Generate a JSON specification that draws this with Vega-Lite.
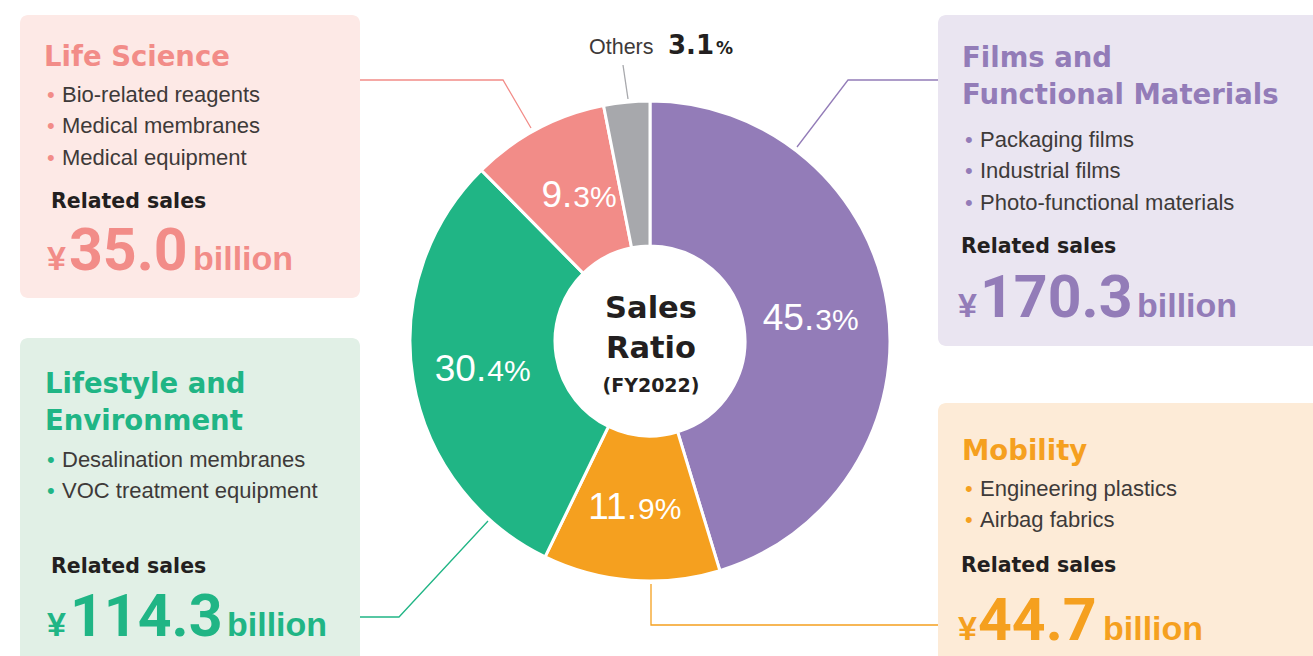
{
  "$schema": "https://vega.github.io/schema/vega-lite/v6.json",
  "width": 1313,
  "height": 656,
  "autosize": {"type": "fit", "contains": "padding"},
  "padding": 0,
  "background": "white",
  "config": {"view": {"stroke": null}},
  "datasets": {
    "pie": [
      {"seg": "Films", "pct": 45.3, "ord": 1, "big": "45.", "small": "3%"},
      {"seg": "Mobility", "pct": 11.9, "ord": 2, "big": "11.", "small": "9%"},
      {"seg": "Lifestyle", "pct": 30.4, "ord": 3, "big": "30.", "small": "4%"},
      {"seg": "LifeScience", "pct": 9.3, "ord": 4, "big": "9.", "small": "3%"},
      {"seg": "Others", "pct": 3.1, "ord": 5, "big": "", "small": ""}
    ],
    "boxes": [
      {"seg": "LifeScience", "x": 20, "x2": 360, "y": 15, "y2": 298},
      {"seg": "Lifestyle", "x": 20, "x2": 360, "y": 338, "y2": 690},
      {"seg": "Films", "x": 938, "x2": 1350, "y": 15, "y2": 346},
      {"seg": "Mobility", "x": 938, "x2": 1350, "y": 403, "y2": 690}
    ],
    "leaders": [
      {"seg": "LifeScience", "pt": 1, "x": 360, "y": 80},
      {"seg": "LifeScience", "pt": 2, "x": 503, "y": 80},
      {"seg": "LifeScience", "pt": 3, "x": 531, "y": 128},
      {"seg": "Films", "pt": 1, "x": 938, "y": 80},
      {"seg": "Films", "pt": 2, "x": 848, "y": 80},
      {"seg": "Films", "pt": 3, "x": 797, "y": 147},
      {"seg": "Lifestyle", "pt": 1, "x": 360, "y": 617},
      {"seg": "Lifestyle", "pt": 2, "x": 399, "y": 617},
      {"seg": "Lifestyle", "pt": 3, "x": 488, "y": 521},
      {"seg": "Mobility", "pt": 1, "x": 651, "y": 584},
      {"seg": "Mobility", "pt": 2, "x": 651, "y": 625},
      {"seg": "Mobility", "pt": 3, "x": 938, "y": 625},
      {"seg": "Others", "pt": 1, "x": 623, "y": 65},
      {"seg": "Others", "pt": 2, "x": 628, "y": 99}
    ],
    "titles": [
      {"seg": "LifeScience", "text": "Life Science", "x": 44, "y": 66},
      {"seg": "Lifestyle", "text": "Lifestyle and", "x": 45, "y": 393},
      {"seg": "Lifestyle", "text": "Environment", "x": 45, "y": 430},
      {"seg": "Films", "text": "Films and", "x": 962, "y": 67},
      {"seg": "Films", "text": "Functional Materials", "x": 962, "y": 104},
      {"seg": "Mobility", "text": "Mobility", "x": 962, "y": 460}
    ],
    "items": [
      {"seg": "LifeScience", "text": "Bio-related reagents", "x": 47, "y": 102},
      {"seg": "LifeScience", "text": "Medical membranes", "x": 47, "y": 133},
      {"seg": "LifeScience", "text": "Medical equipment", "x": 47, "y": 165},
      {"seg": "Lifestyle", "text": "Desalination membranes", "x": 47, "y": 467},
      {"seg": "Lifestyle", "text": "VOC treatment equipment", "x": 47, "y": 498},
      {"seg": "Films", "text": "Packaging films", "x": 965, "y": 147},
      {"seg": "Films", "text": "Industrial films", "x": 965, "y": 178},
      {"seg": "Films", "text": "Photo-functional materials", "x": 965, "y": 210},
      {"seg": "Mobility", "text": "Engineering plastics", "x": 965, "y": 496},
      {"seg": "Mobility", "text": "Airbag fabrics", "x": 965, "y": 527}
    ],
    "related": [
      {"text": "Related sales", "x": 51, "y": 208},
      {"text": "Related sales", "x": 51, "y": 573},
      {"text": "Related sales", "x": 961, "y": 253},
      {"text": "Related sales", "x": 961, "y": 572}
    ],
    "sales": [
      {"seg": "LifeScience", "sales": 35.0, "xYen": 47, "xNum": 69, "xUnit": 193, "y": 270},
      {"seg": "Lifestyle", "sales": 114.3, "xYen": 47, "xNum": 70, "xUnit": 227, "y": 636},
      {"seg": "Films", "sales": 170.3, "xYen": 958, "xNum": 980, "xUnit": 1137, "y": 317},
      {"seg": "Mobility", "sales": 44.7, "xYen": 958, "xNum": 978, "xUnit": 1103, "y": 640}
    ],
    "center": [
      {"text": "Sales", "x": 651, "y": 318},
      {"text": "Ratio", "x": 651, "y": 358}
    ],
    "fy": [{"text": "(FY2022)", "x": 651, "y": 392}],
    "othersName": [{"text": "Others", "x": 589, "y": 54}],
    "othersVal": [{"text": "3.1", "x": 668, "y": 54}],
    "othersPct": [{"text": "%", "x": 716, "y": 54}]
  },
  "layer": [
    {
      "data": {"name": "boxes"},
      "mark": {"type": "rect", "cornerRadius": 8, "clip": true},
      "encoding": {
        "x": {"field": "x", "type": "quantitative", "scale": {"domain": [0, 1313], "nice": false, "zero": false}, "axis": null},
        "x2": {"field": "x2"},
        "y": {"field": "y", "type": "quantitative", "scale": {"domain": [0, 656], "nice": false, "zero": false, "reverse": true}, "axis": null},
        "y2": {"field": "y2"},
        "fill": {"field": "seg", "type": "nominal", "legend": null,
          "scale": {"domain": ["Films", "Mobility", "Lifestyle", "LifeScience", "Others"], "range": ["#EAE5F1", "#FDEBD7", "#E1F0E6", "#FDE9E6", "#EEEEEE"]}}
      }
    },
    {
      "data": {"name": "leaders"},
      "mark": {"type": "line", "strokeWidth": 1.3},
      "encoding": {
        "x": {"field": "x", "type": "quantitative", "scale": {"domain": [0, 1313], "nice": false, "zero": false}, "axis": null},
        "y": {"field": "y", "type": "quantitative", "scale": {"domain": [0, 656], "nice": false, "zero": false, "reverse": true}, "axis": null},
        "order": {"field": "pt", "type": "quantitative"},
        "detail": {"field": "seg", "type": "nominal"},
        "color": {"field": "seg", "type": "nominal", "legend": null,
          "scale": {"domain": ["Films", "Mobility", "Lifestyle", "LifeScience", "Others"], "range": ["#937CB8", "#F5A01F", "#20B585", "#F28C88", "#A7A8AC"]}}
      }
    },
    {
      "data": {"name": "pie"},
      "mark": {"type": "arc", "outerRadius": 240, "innerRadius": 95, "stroke": "white", "strokeWidth": 3},
      "encoding": {
        "theta": {"field": "pct", "type": "quantitative", "stack": true},
        "order": {"field": "ord", "type": "quantitative"},
        "color": {"field": "seg", "type": "nominal", "legend": null,
          "scale": {"domain": ["Films", "Mobility", "Lifestyle", "LifeScience", "Others"], "range": ["#937CB8", "#F5A01F", "#20B585", "#F28C88", "#A7A8AC"]}},
        "x": {"datum": 650, "type": "quantitative", "scale": {"domain": [0, 1313], "nice": false, "zero": false}, "axis": null},
        "y": {"datum": 341, "type": "quantitative", "scale": {"domain": [0, 656], "nice": false, "zero": false, "reverse": true}, "axis": null}
      }
    },
    {
      "data": {"name": "pie"},
      "mark": {"type": "text", "radius": 166, "align": "right", "baseline": "alphabetic", "dy": 13, "color": "white", "font": "Liberation Sans", "fontSize": 37},
      "encoding": {
        "theta": {"field": "pct", "type": "quantitative", "stack": true},
        "order": {"field": "ord", "type": "quantitative"},
        "text": {"field": "big"},
        "x": {"datum": 650, "type": "quantitative", "scale": {"domain": [0, 1313], "nice": false, "zero": false}, "axis": null},
        "y": {"datum": 341, "type": "quantitative", "scale": {"domain": [0, 656], "nice": false, "zero": false, "reverse": true}, "axis": null}
      }
    },
    {
      "data": {"name": "pie"},
      "mark": {"type": "text", "radius": 166, "align": "left", "baseline": "alphabetic", "dy": 13, "dx": 1, "color": "white", "font": "Liberation Sans", "fontSize": 30},
      "encoding": {
        "theta": {"field": "pct", "type": "quantitative", "stack": true},
        "order": {"field": "ord", "type": "quantitative"},
        "text": {"field": "small"},
        "x": {"datum": 650, "type": "quantitative", "scale": {"domain": [0, 1313], "nice": false, "zero": false}, "axis": null},
        "y": {"datum": 341, "type": "quantitative", "scale": {"domain": [0, 656], "nice": false, "zero": false, "reverse": true}, "axis": null}
      }
    },
    {
      "data": {"name": "titles"},
      "mark": {"type": "text", "align": "left", "baseline": "alphabetic", "font": "DejaVu Sans", "fontWeight": "bold", "fontSize": 27.5},
      "encoding": {
        "x": {"field": "x", "type": "quantitative", "scale": {"domain": [0, 1313], "nice": false, "zero": false}, "axis": null},
        "y": {"field": "y", "type": "quantitative", "scale": {"domain": [0, 656], "nice": false, "zero": false, "reverse": true}, "axis": null},
        "text": {"field": "text"},
        "color": {"field": "seg", "type": "nominal", "legend": null,
          "scale": {"domain": ["Films", "Mobility", "Lifestyle", "LifeScience", "Others"], "range": ["#937CB8", "#F5A01F", "#20B585", "#F28C88", "#A7A8AC"]}}
      }
    },
    {
      "data": {"name": "items"},
      "mark": {"type": "text", "align": "left", "baseline": "alphabetic", "font": "Liberation Sans", "fontSize": 22, "text": "•"},
      "encoding": {
        "x": {"field": "x", "type": "quantitative", "scale": {"domain": [0, 1313], "nice": false, "zero": false}, "axis": null},
        "y": {"field": "y", "type": "quantitative", "scale": {"domain": [0, 656], "nice": false, "zero": false, "reverse": true}, "axis": null},
        "color": {"field": "seg", "type": "nominal", "legend": null,
          "scale": {"domain": ["Films", "Mobility", "Lifestyle", "LifeScience", "Others"], "range": ["#937CB8", "#F5A01F", "#20B585", "#F28C88", "#A7A8AC"]}}
      }
    },
    {
      "data": {"name": "items"},
      "mark": {"type": "text", "align": "left", "baseline": "alphabetic", "dx": 15, "font": "Liberation Sans", "fontSize": 22, "color": "#3E3A39"},
      "encoding": {
        "x": {"field": "x", "type": "quantitative", "scale": {"domain": [0, 1313], "nice": false, "zero": false}, "axis": null},
        "y": {"field": "y", "type": "quantitative", "scale": {"domain": [0, 656], "nice": false, "zero": false, "reverse": true}, "axis": null},
        "text": {"field": "text"}
      }
    },
    {
      "data": {"name": "related"},
      "mark": {"type": "text", "align": "left", "baseline": "alphabetic", "font": "DejaVu Sans", "fontWeight": "bold", "fontSize": 20.5, "color": "#231F20"},
      "encoding": {
        "x": {"field": "x", "type": "quantitative", "scale": {"domain": [0, 1313], "nice": false, "zero": false}, "axis": null},
        "y": {"field": "y", "type": "quantitative", "scale": {"domain": [0, 656], "nice": false, "zero": false, "reverse": true}, "axis": null},
        "text": {"field": "text"}
      }
    },
    {
      "data": {"name": "sales"},
      "mark": {"type": "text", "align": "left", "baseline": "alphabetic", "font": "Liberation Sans", "fontWeight": "bold", "fontSize": 34, "text": "¥"},
      "encoding": {
        "x": {"field": "xYen", "type": "quantitative", "scale": {"domain": [0, 1313], "nice": false, "zero": false}, "axis": null},
        "y": {"field": "y", "type": "quantitative", "scale": {"domain": [0, 656], "nice": false, "zero": false, "reverse": true}, "axis": null},
        "color": {"field": "seg", "type": "nominal", "legend": null,
          "scale": {"domain": ["Films", "Mobility", "Lifestyle", "LifeScience", "Others"], "range": ["#937CB8", "#F5A01F", "#20B585", "#F28C88", "#A7A8AC"]}}
      }
    },
    {
      "data": {"name": "sales"},
      "mark": {"type": "text", "align": "left", "baseline": "alphabetic", "font": "Roboto", "fontWeight": "bold", "fontSize": 59},
      "encoding": {
        "x": {"field": "xNum", "type": "quantitative", "scale": {"domain": [0, 1313], "nice": false, "zero": false}, "axis": null},
        "y": {"field": "y", "type": "quantitative", "scale": {"domain": [0, 656], "nice": false, "zero": false, "reverse": true}, "axis": null},
        "text": {"field": "sales", "type": "quantitative", "format": ".1f"},
        "color": {"field": "seg", "type": "nominal", "legend": null,
          "scale": {"domain": ["Films", "Mobility", "Lifestyle", "LifeScience", "Others"], "range": ["#937CB8", "#F5A01F", "#20B585", "#F28C88", "#A7A8AC"]}}
      }
    },
    {
      "data": {"name": "sales"},
      "mark": {"type": "text", "align": "left", "baseline": "alphabetic", "font": "Liberation Sans", "fontWeight": "bold", "fontSize": 34, "text": "billion"},
      "encoding": {
        "x": {"field": "xUnit", "type": "quantitative", "scale": {"domain": [0, 1313], "nice": false, "zero": false}, "axis": null},
        "y": {"field": "y", "type": "quantitative", "scale": {"domain": [0, 656], "nice": false, "zero": false, "reverse": true}, "axis": null},
        "color": {"field": "seg", "type": "nominal", "legend": null,
          "scale": {"domain": ["Films", "Mobility", "Lifestyle", "LifeScience", "Others"], "range": ["#937CB8", "#F5A01F", "#20B585", "#F28C88", "#A7A8AC"]}}
      }
    },
    {
      "data": {"name": "center"},
      "mark": {"type": "text", "align": "center", "baseline": "alphabetic", "font": "DejaVu Sans", "fontWeight": "bold", "fontSize": 30.5, "color": "#231F20"},
      "encoding": {
        "x": {"field": "x", "type": "quantitative", "scale": {"domain": [0, 1313], "nice": false, "zero": false}, "axis": null},
        "y": {"field": "y", "type": "quantitative", "scale": {"domain": [0, 656], "nice": false, "zero": false, "reverse": true}, "axis": null},
        "text": {"field": "text"}
      }
    },
    {
      "data": {"name": "fy"},
      "mark": {"type": "text", "align": "center", "baseline": "alphabetic", "font": "DejaVu Sans", "fontWeight": "bold", "fontSize": 19, "color": "#231F20"},
      "encoding": {
        "x": {"field": "x", "type": "quantitative", "scale": {"domain": [0, 1313], "nice": false, "zero": false}, "axis": null},
        "y": {"field": "y", "type": "quantitative", "scale": {"domain": [0, 656], "nice": false, "zero": false, "reverse": true}, "axis": null},
        "text": {"field": "text"}
      }
    },
    {
      "data": {"name": "othersName"},
      "mark": {"type": "text", "align": "left", "baseline": "alphabetic", "font": "Liberation Sans", "fontSize": 21.5, "color": "#3E3A39"},
      "encoding": {
        "x": {"field": "x", "type": "quantitative", "scale": {"domain": [0, 1313], "nice": false, "zero": false}, "axis": null},
        "y": {"field": "y", "type": "quantitative", "scale": {"domain": [0, 656], "nice": false, "zero": false, "reverse": true}, "axis": null},
        "text": {"field": "text"}
      }
    },
    {
      "data": {"name": "othersVal"},
      "mark": {"type": "text", "align": "left", "baseline": "alphabetic", "font": "DejaVu Sans", "fontWeight": "bold", "fontSize": 26, "color": "#231F20"},
      "encoding": {
        "x": {"field": "x", "type": "quantitative", "scale": {"domain": [0, 1313], "nice": false, "zero": false}, "axis": null},
        "y": {"field": "y", "type": "quantitative", "scale": {"domain": [0, 656], "nice": false, "zero": false, "reverse": true}, "axis": null},
        "text": {"field": "text"}
      }
    },
    {
      "data": {"name": "othersPct"},
      "mark": {"type": "text", "align": "left", "baseline": "alphabetic", "font": "DejaVu Sans", "fontWeight": "bold", "fontSize": 17, "color": "#231F20"},
      "encoding": {
        "x": {"field": "x", "type": "quantitative", "scale": {"domain": [0, 1313], "nice": false, "zero": false}, "axis": null},
        "y": {"field": "y", "type": "quantitative", "scale": {"domain": [0, 656], "nice": false, "zero": false, "reverse": true}, "axis": null},
        "text": {"field": "text"}
      }
    }
  ]
}
